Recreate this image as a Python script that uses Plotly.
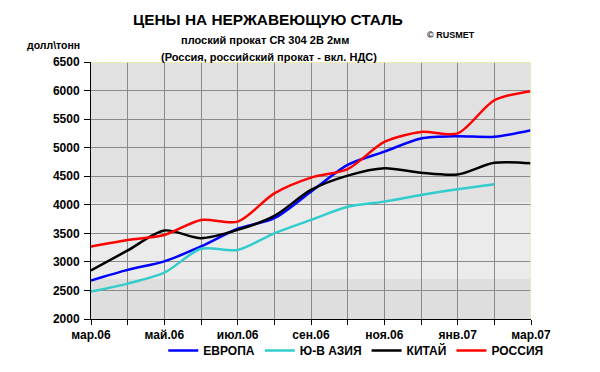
import plotly.graph_objects as go

months = list(range(13))
tick_labels = ["мар.06", "", "май.06", "", "июл.06", "", "сен.06", "", "ноя.06", "", "янв.07", "", "мар.07"]

europe = [2675, 2860, 3010, 3270, 3580, 3765, 4230, 4700, 4930, 5160, 5200, 5190, 5305]
asia = [2480, 2620, 2810, 3230, 3210, 3500, 3735, 3965, 4055, 4170, 4270, 4360]
china = [2850, 3200, 3550, 3415, 3560, 3805, 4260, 4510, 4640, 4560, 4530, 4735, 4725]
russia = [3270, 3385, 3470, 3735, 3705, 4200, 4475, 4625, 5100, 5275, 5250, 5830, 5990]

series = [
    ("ЕВРОПА", europe, "#0000ff"),
    ("Ю-В АЗИЯ", asia, "#33cccc"),
    ("КИТАЙ", china, "#000000"),
    ("РОССИЯ", russia, "#ff0000"),
]

font = "Liberation Sans, Arial, sans-serif"
L, R, T, B = 91, 69, 62, 53
W, H = 600, 372
pw, ph = W - L - R, H - T - B

fig = go.Figure()
for name, vals, col in series:
    fig.add_trace(go.Scatter(
        x=months[:len(vals)], y=vals, name=name, mode="lines",
        line=dict(color=col, width=2.5, shape="spline", smoothing=0.8),
    ))

# background texture bands
fig.add_shape(type="rect", xref="x", yref="y", x0=0, x1=12, y0=2000, y1=2700,
              fillcolor="#dedede", line_width=0, layer="below")
fig.add_shape(type="rect", xref="x", yref="y", x0=0, x1=12, y0=2700, y1=4050,
              fillcolor="#ebebeb", line_width=0, layer="below")
# yellowish border top/right
fig.add_shape(type="line", xref="x", yref="y", x0=0, x1=12, y0=6500, y1=6500,
              line=dict(color="#f2f0a0", width=1.5))
fig.add_shape(type="line", xref="x", yref="y", x0=12, x1=12, y0=2000, y1=6500,
              line=dict(color="#f2f0a0", width=1.5))


def px_ann(text, x, y, size, xanchor="center"):
    return dict(text=text, xref="paper", yref="paper",
                x=(x - L) / pw, y=1 + (T - y) / ph, xanchor=xanchor, yanchor="middle",
                showarrow=False, font=dict(size=size, family=font, weight="bold", color="black"))


fig.update_layout(
    width=W, height=H,
    margin=dict(l=L, r=R, t=T, b=B, autoexpand=False),
    paper_bgcolor="white", plot_bgcolor="#e1e1e1",
    font=dict(family=font, size=12, color="black", weight="bold"),
    showlegend=True,
    legend=dict(orientation="h", xref="container", yref="container",
                x=0.593, xanchor="center", y=0.058, yanchor="middle",
                font=dict(size=12, family=font, color="black", weight="bold"),
                itemwidth=30, bgcolor="rgba(0,0,0,0)"),
    annotations=[
        px_ann("<b>ЦЕНЫ НА НЕРЖАВЕЮЩУЮ СТАЛЬ</b>", 268, 20, 15.4),
        px_ann("плоский прокат CR 304 2B 2мм", 265, 40, 11),
        px_ann("(Россия, российский прокат - вкл. НДС)", 269, 57, 11),
        px_ann("© RUSMET", 451, 35, 9),
        px_ann("долл\\тонн", 53, 45, 10.5),
    ],
)

fig.update_xaxes(
    range=[0, 12], tickmode="array", tickvals=months, ticktext=tick_labels,
    showgrid=True, gridcolor="#8a8a8a", gridwidth=1,
    showline=True, linecolor="black", linewidth=1,
    ticks="outside", ticklen=5, tickcolor="black", automargin=False,
    tickfont=dict(size=12, family=font, weight="bold", color="black"), zeroline=False,
)
fig.update_yaxes(
    range=[2000, 6500], dtick=500, tickformat="d",
    showgrid=True, gridcolor="#8a8a8a", gridwidth=1,
    showline=True, linecolor="black", linewidth=1,
    ticks="outside", ticklen=6, tickcolor="black", automargin=False,
    ticklabelstandoff=2,
    tickfont=dict(size=12, family=font, weight="bold", color="black"), zeroline=False,
)

fig.write_html("out.html", config={"displayModeBar": False},
               post_script="document.body.style.margin='0px';document.body.style.overflow='hidden';")
